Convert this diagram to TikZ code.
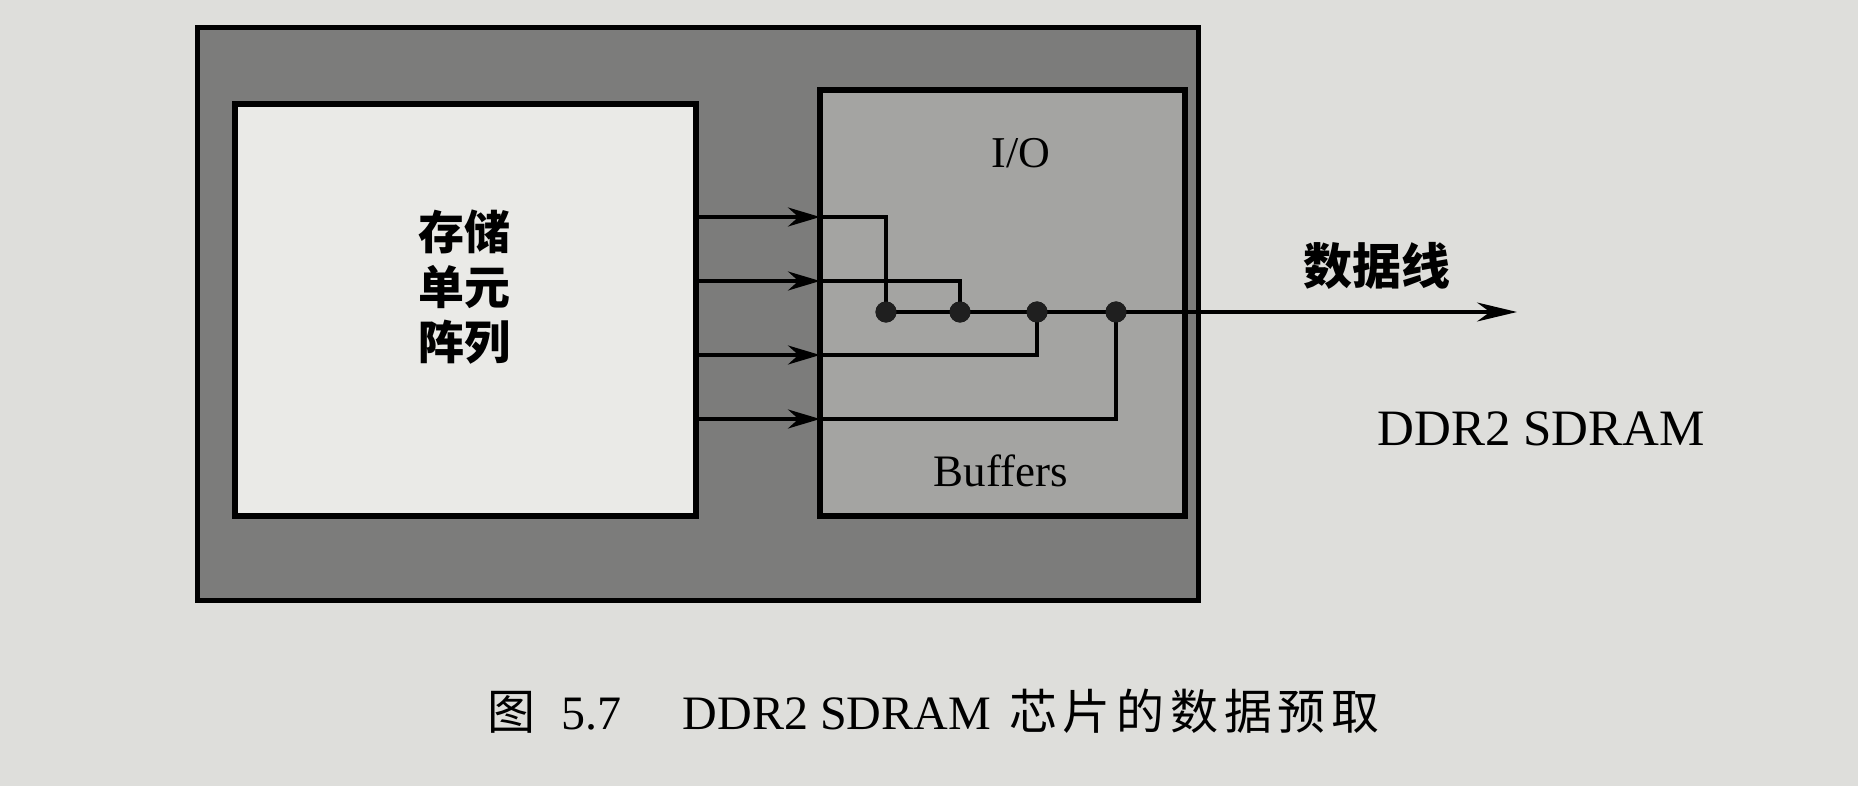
\documentclass[tikz,border=0pt]{standalone}
\usepackage{fontspec}
\setmainfont{Liberation Serif}
\newfontfamily\cjk{Noto Sans CJK SC}
\newfontfamily\cjkcap[LetterSpace=12]{Noto Sans CJK SC}
\usetikzlibrary{arrows.meta}
\definecolor{paper}{RGB}{222,222,219}
\definecolor{outerfill}{RGB}{124,124,123}
\definecolor{iofill}{RGB}{164,164,162}
\definecolor{cellfill}{RGB}{234,234,231}
\tikzset{
  box/.style={draw=black, inner sep=0pt, outer sep=0pt, anchor=north west},
  wire/.style={draw=black, line width=3.3pt},
  feed/.style={wire, -{Stealth[length=32pt,width=19pt]}},
  outarrow/.style={wire, -{Stealth[length=40pt,width=19pt]}},
  dotnode/.style={circle, fill=black!88, draw=black, line width=1pt, minimum size=20pt, inner sep=0pt},
  lbl/.style={inner sep=0pt, outer sep=0pt}
}
\begin{document}
\begin{tikzpicture}[x=1pt,y=-1pt]
\fill[paper] (0,0) rectangle (1858,786);
\useasboundingbox (0,0) rectangle (1858,786);

% boxes
\node[box, fill=outerfill, line width=5pt, minimum width=1001pt, minimum height=572pt] (chip) at (197,28) {};
\node[box, fill=cellfill, line width=6pt, minimum width=461pt, minimum height=412pt] (cell) at (235,104) {};
\node[box, fill=iofill, line width=6pt, minimum width=365pt, minimum height=426pt] (io) at (820,90) {};

% labels
\node[lbl, font=\cjk\bfseries\fontsize{46}{55}\selectfont, align=center] (cellText) at (464,287) {存储\\单元\\阵列};
\node[lbl, anchor=base, font=\fontsize{44}{44}\selectfont] (ioText) at (1021,168) {I/O};
\node[lbl, anchor=base, font=\fontsize{45}{45}\selectfont] (bufText) at (1001,486) {Buffers};
\node[lbl, font=\cjk\bfseries\fontsize{49}{49}\selectfont] (dataText) at (1377,266) {数据线};
\node[lbl, anchor=base, font=\fontsize{51}{51}\selectfont] (chipText) at (1541,445) {DDR2 SDRAM};

% coordinates
\coordinate (s1) at (696,217); \coordinate (e1) at (820,217);
\coordinate (s2) at (696,281); \coordinate (e2) at (820,281);
\coordinate (s3) at (696,355); \coordinate (e3) at (820,355);
\coordinate (s4) at (696,419); \coordinate (e4) at (820,419);
\coordinate (out) at (1517,312);

\node[dotnode] (d1) at (886,312) {};
\node[dotnode] (d2) at (960,312) {};
\node[dotnode] (d3) at (1037,312) {};
\node[dotnode] (d4) at (1116,312) {};

% wires
\draw[wire] (e1) -| (d1.center);
\draw[wire] (e2) -| (d2.center);
\draw[wire] (e3) -| (d3.center);
\draw[wire] (e4) -| (d4.center);
\draw[wire] (d1.center) -- (d2.center) -- (d3.center) -- (d4.center);
\draw[outarrow] (d4.center) -- (out);
\draw[feed] (s1) -- (e1);
\draw[feed] (s2) -- (e2);
\draw[feed] (s3) -- (e3);
\draw[feed] (s4) -- (e4);

% dots on top
\foreach \d in {d1,d2,d3,d4} \fill[black!88] (\d) circle (10.5pt);

% caption
\node[lbl, anchor=west, font=\fontsize{48}{48}\selectfont] (caption) at (487,711)
  {{\cjk 图}\hspace{26pt}5.7\hspace{62pt}DDR2 SDRAM\hspace{18pt}{\cjkcap 芯片的数据预取}};
\end{tikzpicture}
\end{document}
